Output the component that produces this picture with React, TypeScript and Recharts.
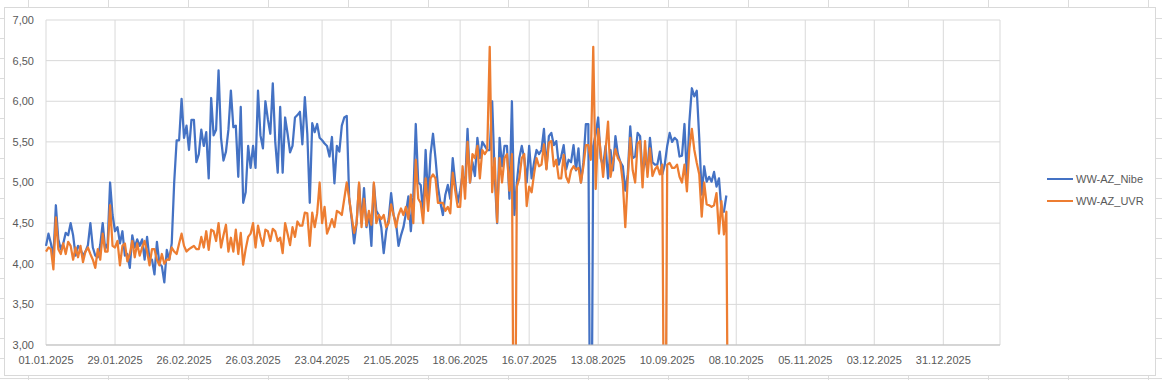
import { LineChart, Line, XAxis, YAxis, CartesianGrid } from "recharts";

// x axis: one tick every 28 days starting 01.01.2025
const tickLabels = [
  "01.01.2025", "29.01.2025", "26.02.2025", "26.03.2025", "23.04.2025",
  "21.05.2025", "18.06.2025", "16.07.2025", "13.08.2025", "10.09.2025",
  "08.10.2025", "05.11.2025", "03.12.2025", "31.12.2025",
];
const yTicks = [3, 3.5, 4, 4.5, 5, 5.5, 6, 6.5, 7];

// daily values from 01.01.2025
const nibe = [
  4.22, 4.37, 4.25, 4.08, 4.72, 4.30, 4.18, 4.25, 4.38, 4.35,
  4.50, 4.35, 4.10, 4.22, 4.18, 4.10, 4.15, 4.23, 4.50, 4.20,
  4.10, 4.08, 4.23, 4.50, 4.18, 4.25, 5.00, 4.60, 4.40, 4.45,
  4.25, 4.40, 4.10, 4.12, 3.95, 4.35, 4.20, 4.30, 4.22, 4.30,
  4.05, 4.33, 4.05, 4.05, 3.87, 4.27, 4.00, 3.97, 3.77, 4.17,
  4.05, 4.25, 5.00, 5.52, 5.52, 6.03, 5.55, 5.70, 5.40, 5.77,
  5.77, 5.25, 5.35, 5.65, 5.45, 5.62, 5.05, 6.04, 5.58, 5.65,
  6.38, 5.55, 5.27, 5.38, 5.65, 6.13, 5.68, 5.70, 5.07, 5.93,
  4.75, 4.88, 5.45, 5.18, 5.45, 5.18, 6.13, 5.58, 5.42, 6.00,
  5.78, 5.60, 6.22, 5.50, 5.12, 5.93, 5.12, 5.80, 5.60, 5.37,
  5.45, 5.80, 5.83, 5.87, 5.47, 6.05, 5.60, 4.75, 5.73, 5.62,
  5.72, 5.55, 5.52, 5.48, 5.45, 5.32, 5.56, 4.99, 5.45, 5.38,
  5.70, 5.80, 5.82, 4.80, 4.55, 4.25, 4.50, 4.98, 4.50, 4.93,
  4.45, 4.62, 4.22, 4.98, 4.65, 4.60, 4.45, 4.13, 4.40, 4.55,
  4.87, 4.60, 4.50, 4.22, 4.35, 4.45, 4.62, 4.83, 4.40, 4.82,
  5.72, 5.00, 4.97, 4.62, 5.40, 4.80, 5.35, 5.60, 5.30, 4.95,
  4.75, 4.60, 4.85, 4.97, 4.80, 5.30, 5.00, 4.75, 4.90, 5.10,
  4.95, 5.66, 5.00, 5.25, 5.08, 5.55, 5.30, 5.50, 5.45, 5.40,
  5.40, 6.00, 5.10, 4.50, 5.55, 5.20, 5.45, 5.45, 4.80, 6.00,
  4.60, 5.00, 5.30, 5.45, 5.30, 5.00, 5.45, 5.05, 5.25, 5.40,
  5.35, 5.40, 5.66, 5.17, 5.57, 5.61, 5.46, 5.51, 5.22, 5.32,
  5.46, 5.16, 5.28, 5.25, 5.46, 5.15, 5.42, 5.00, 5.25, 5.72,
  5.72, 0, 5.45, 5.60, 5.80, 5.30, 5.20, 5.45, 5.05, 5.40,
  5.15, 5.57, 5.35, 5.25, 5.20, 4.90, 5.10, 5.69, 5.30, 5.32,
  5.61, 5.57, 5.10, 5.30, 5.15, 5.55, 5.25, 5.22, 5.22, 5.38,
  5.10, 5.22, 5.45, 5.61, 5.50, 5.55, 5.52, 5.32, 5.33, 5.72,
  5.05, 5.75, 6.16, 6.06, 6.13, 5.55, 4.85, 5.20, 5.01, 5.07,
  5.01, 5.13, 4.95, 5.05, 4.66, 4.64, 4.84,
];

const uvr = [
  4.15, 4.20, 4.18, 3.93, 4.57, 4.18, 4.12, 4.25, 4.12, 4.27,
  4.22, 4.05, 4.20, 4.08, 4.22, 4.02, 4.15, 4.20, 4.12, 4.05,
  3.95, 4.18, 4.05, 4.37, 4.15, 4.15, 4.72, 4.22, 4.20, 4.28,
  3.98, 4.22, 4.25, 4.03, 4.12, 4.28, 4.08, 4.25, 4.10, 4.20,
  4.28, 4.15, 3.98, 4.18, 4.18, 4.05, 3.98, 4.12, 4.00, 4.05,
  4.05, 4.20, 4.15, 4.12, 4.25, 4.37, 4.22, 4.15, 4.18, 4.20,
  4.22, 4.18, 4.18, 4.33, 4.20, 4.40, 4.17, 4.42, 4.40, 4.28,
  4.50, 4.20, 4.35, 4.48, 4.15, 4.32, 4.15, 4.42, 4.12, 4.38,
  3.99, 4.18, 4.33, 4.37, 4.50, 4.20, 4.47, 4.33, 4.22, 4.42,
  4.40, 4.28, 4.43, 4.40, 4.28, 4.32, 4.13, 4.50, 4.37, 4.23,
  4.45, 4.33, 4.52, 4.47, 4.47, 4.63, 4.62, 4.22, 4.63, 4.45,
  4.62, 5.00, 4.50, 4.70, 4.37, 4.45, 4.55, 4.45, 4.65, 4.63,
  4.60, 4.80, 5.00, 4.80, 4.58, 4.38, 4.50, 5.00, 4.45, 4.80,
  4.47, 4.65, 4.48, 5.00, 4.50, 4.60, 4.55, 4.60, 4.45, 4.50,
  4.73, 4.60, 4.45, 4.60, 4.68, 4.60, 4.70, 4.55, 4.85, 4.50,
  5.28, 4.80, 4.75, 4.50, 5.05, 4.65, 5.05, 5.10, 5.05, 4.75,
  4.75, 4.75, 4.65, 4.70, 4.62, 5.12, 4.90, 4.70, 4.70, 5.20,
  4.80, 5.50, 5.00, 5.35, 5.30, 5.45, 5.05, 5.40, 5.35, 5.40,
  6.67, 4.88, 5.30, 4.51, 5.30, 5.00, 5.30, 5.35, 4.90, 5.35,
  0, 4.95, 5.05, 5.30, 5.35, 4.71, 4.95, 4.88, 5.11, 5.30,
  5.20, 5.22, 5.47, 5.16, 5.49, 5.51, 5.20, 5.28, 5.05, 5.05,
  5.34, 5.07, 5.00, 5.15, 5.20, 5.16, 5.18, 5.00, 5.20, 5.46,
  5.46, 5.28, 6.67, 4.92, 5.66, 5.38, 5.07, 5.40, 5.75, 5.07,
  5.25, 5.41, 5.30, 5.25, 5.00, 4.45, 5.05, 5.55, 5.15, 5.00,
  5.48, 5.51, 4.94, 5.51, 5.07, 5.42, 5.08, 5.16, 5.20, 5.10,
  5.22, 0, 5.22, 5.24, 5.18, 5.18, 5.22, 5.07, 5.00, 5.22,
  4.89, 5.42, 5.66, 5.40, 5.24, 5.10, 4.58, 5.00, 4.73, 4.72,
  4.70, 4.72, 4.87, 4.37, 4.77, 4.36, 4.64, 0,
];

const series = [
  { key: "nibe", name: "WW-AZ_Nibe", color: "#4472C4" },
  { key: "uvr", name: "WW-AZ_UVR", color: "#ED7D31" },
];

const rows = uvr.map((u, i) => ({
  day: i,
  nibe: i < nibe.length ? nibe[i] : null,
  uvr: u,
}));

const xTicks = tickLabels.map((_, i) => i * 28);
const font = "'Liberation Sans', Arial, sans-serif";
const tickStyle = { fill: "#595959", fontSize: 11, fontFamily: font };

export default function App() {
  return (
    <div
      style={{
        position: "fixed",
        left: 0,
        top: 0,
        width: 1162,
        height: 380,
        background: "#fff",
        backgroundImage:
          "linear-gradient(to right, #dcdcdc 1px, transparent 1px), linear-gradient(to bottom, #dcdcdc 1px, transparent 1px)",
        backgroundSize: "80px 20px",
        backgroundPosition: "28px 18px",
        fontFamily: font,
        overflow: "hidden",
      }}
    >
      <div
        style={{
          position: "absolute",
          left: 4,
          top: 7,
          width: 1150,
          height: 367,
          border: "1px solid #d9d9d9",
          background: "#fff",
        }}
      />
      <div style={{ position: "absolute", left: 0, top: 0 }}>
        <LineChart
          width={1162}
          height={380}
          data={rows}
          margin={{ top: 20, right: 162, bottom: 10, left: 6 }}
        >
          <CartesianGrid stroke="#d9d9d9" strokeWidth={1} />
          <XAxis
            dataKey="day"
            type="number"
            domain={[0, 387]}
            ticks={xTicks}
            tickFormatter={(v: number) => tickLabels[Math.round(v / 28)] ?? ""}
            interval={0}
            height={25}
            tickLine={false}
            tickSize={0}
            tickMargin={11}
            axisLine={{ stroke: "#bfbfbf" }}
            tick={tickStyle}
          />
          <YAxis
            type="number"
            domain={[3, 7]}
            ticks={yTicks}
            allowDataOverflow
            interval={0}
            width={40}
            tickLine={false}
            tickSize={0}
            tickMargin={12}
            axisLine={false}
            tickFormatter={(v: number) => v.toFixed(2).replace(".", ",")}
            tick={tickStyle}
          />
          {series.map((s) => (
            <Line
              key={s.key}
              type="linear"
              dataKey={s.key}
              name={s.name}
              stroke={s.color}
              strokeWidth={2.25}
              strokeLinejoin="round"
              dot={false}
              activeDot={false}
              isAnimationActive={false}
            />
          ))}
        </LineChart>
      </div>
      <div style={{ position: "absolute", left: 1047, top: 168 }}>
        {series.map((s) => (
          <div
            key={s.key}
            style={{
              display: "flex",
              alignItems: "center",
              height: 22,
              fontSize: 11,
              color: "#595959",
              whiteSpace: "nowrap",
            }}
          >
            <span
              style={{
                display: "inline-block",
                width: 26,
                height: 2,
                background: s.color,
                marginRight: 3,
              }}
            />
            {s.name}
          </div>
        ))}
      </div>
    </div>
  );
}
